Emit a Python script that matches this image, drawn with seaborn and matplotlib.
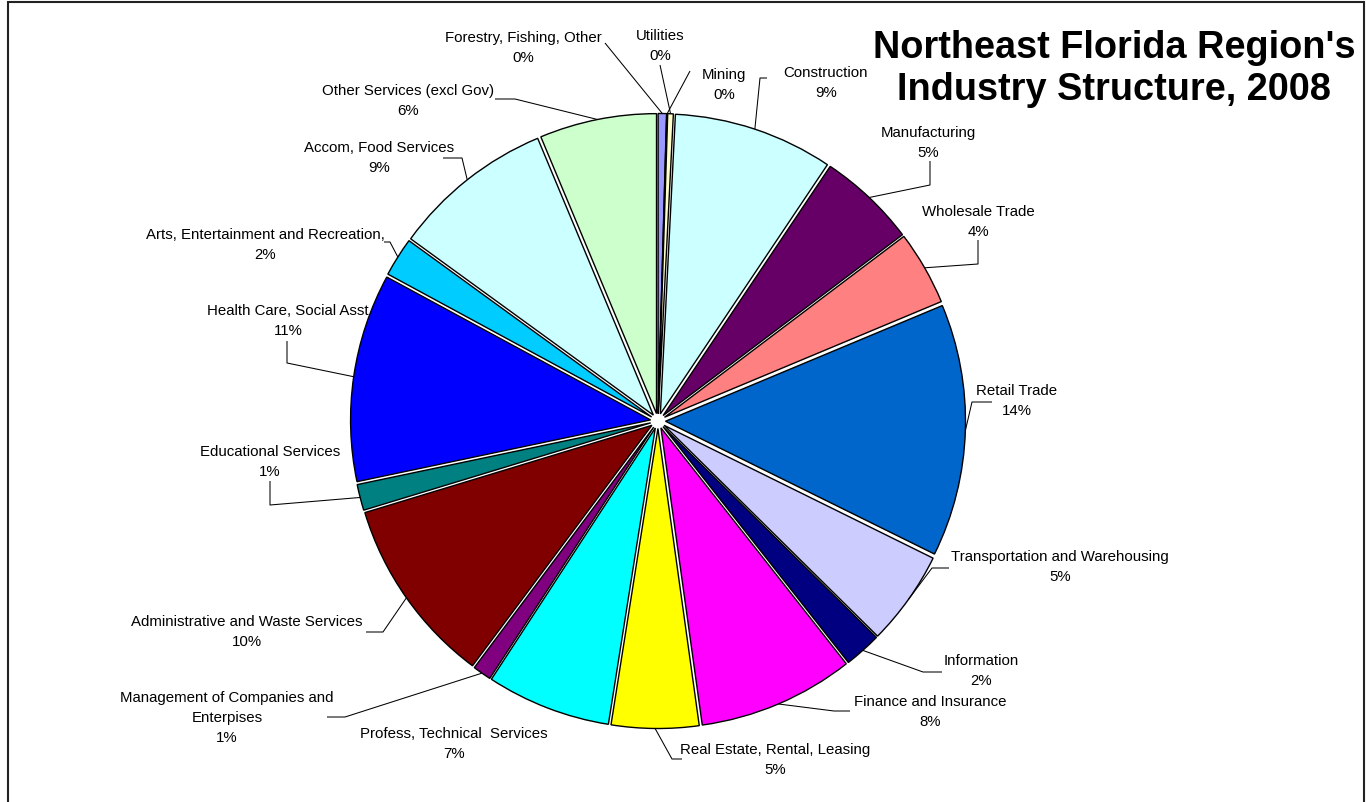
import matplotlib
matplotlib.use("Agg")
import matplotlib.pyplot as plt
from matplotlib.patches import Rectangle
import seaborn as sns
import numpy as np

# Industry shares (percent of total), clockwise from 12 o'clock
industries = [
    "Forestry, Fishing, Other",
    "Mining",
    "Utilities",
    "Construction",
    "Manufacturing",
    "Wholesale Trade",
    "Retail Trade",
    "Transportation and Warehousing",
    "Information",
    "Finance and Insurance",
    "Real Estate, Rental, Leasing",
    "Profess, Technical  Services",
    "Management of Companies and\nEnterpises",
    "Administrative and Waste Services",
    "Educational Services",
    "Health Care, Social Asst",
    "Arts, Entertainment and Recreation,",
    "Accom, Food Services",
    "Other Services (excl Gov)",
]
shares = [0.45, 0.05, 0.3, 8.6, 5.3, 4.0, 13.6, 5.1, 2.0, 8.4,
          4.7, 6.7, 1.0, 10.1, 1.4, 11.2, 2.1, 8.7, 6.3]

colors = ["#9999FF", "#993366", "#FFFFCC", "#CCFFFF", "#660066", "#FF8080",
          "#0066CC", "#CCCCFF", "#000080", "#FF00FF", "#FFFF00", "#00FFFF",
          "#800080", "#800000", "#008080", "#0000FF", "#00CCFF", "#CCFFFF",
          "#CCFFCC"]

title = "Northeast Florida Region's\nIndustry Structure, 2008"

# Layout (pixel coordinates measured from the top-left corner)
W, H = 1366, 803
pie_center = (658, 422)
pie_radius = 300
gap = 7.5
label_pos = [(523, 48), (724, 85), (660, 46), (826, 83), (928, 143),
             (978, 222), (1017, 401), (1060, 567), (981, 671), (930, 712),
             (775, 760), (454, 744), (227, 718), (247, 632), (270, 462),
             (288, 321), (265, 245), (379, 158), (408, 101)]
leader_paths = [
    [(605, 44)],
    [(690, 72)],
    [(660, 66)],
    [(767, 79), (760, 79)],
    [(930, 162), (930, 186)],
    [(978, 241), (978, 265)],
    [(992, 403), (972, 403)],
    [(949, 569), (932, 569)],
    [(942, 673), (923, 673)],
    [(850, 712), (834, 712)],
    [(682, 760), (672, 760)],
    [],
    [(327, 718), (345, 718)],
    [(366, 633), (383, 633)],
    [(270, 482), (270, 506)],
    [(287, 342), (287, 364)],
    [(384, 243), (390, 243)],
    [(443, 159), (462, 159)],
    [(495, 100), (515, 100)],
]

sns.set_theme(style="white")
plt.rcParams["font.family"] = ["Liberation Sans", "DejaVu Sans"]


def flip(p):
    return (p[0], H - p[1])


fig = plt.figure(figsize=(W / 100, H / 100), dpi=100)
fig.patch.set_facecolor("white")
ax = fig.add_axes([0, 0, 1, 1])

wedges, _ = ax.pie(
    shares,
    colors=colors,
    startangle=90,
    counterclock=False,
    explode=[gap] * len(shares),
    radius=pie_radius,
    center=flip(pie_center),
    wedgeprops=dict(edgecolor="black", linewidth=1.0),
)
ax.set_xlim(0, W)
ax.set_ylim(0, H)
ax.set_aspect("equal")
ax.axis("off")

for w, name, val, pos, path in zip(wedges, industries, shares, label_pos, leader_paths):
    ax.text(*flip(pos), f"{name}\n{val:.0f}%", ha="center", va="center",
            fontsize=10.8, linespacing=1.55, color="black")
    if path:
        mid = np.deg2rad((w.theta1 + w.theta2) / 2)
        cx, cy = w.center
        anchor = (cx + w.r * np.cos(mid), cy + w.r * np.sin(mid))
        pts = [flip(p) for p in path] + [anchor]
        xs, ys = zip(*pts)
        ax.plot(xs, ys, color="black", linewidth=0.75, solid_capstyle="butt")

ax.text(1114, H - 69, title, ha="center", va="center", fontsize=27.3,
        fontweight="bold", linespacing=1.24, color="black")

# Outer chart frame
fig.patches.append(Rectangle((8 / W, -0.02), (1364 - 8) / W, 1 - 3 / H + 0.02,
                             transform=fig.transFigure, fill=False,
                             edgecolor="#222222", linewidth=1.5))

fig.savefig("out.png", dpi=100)
